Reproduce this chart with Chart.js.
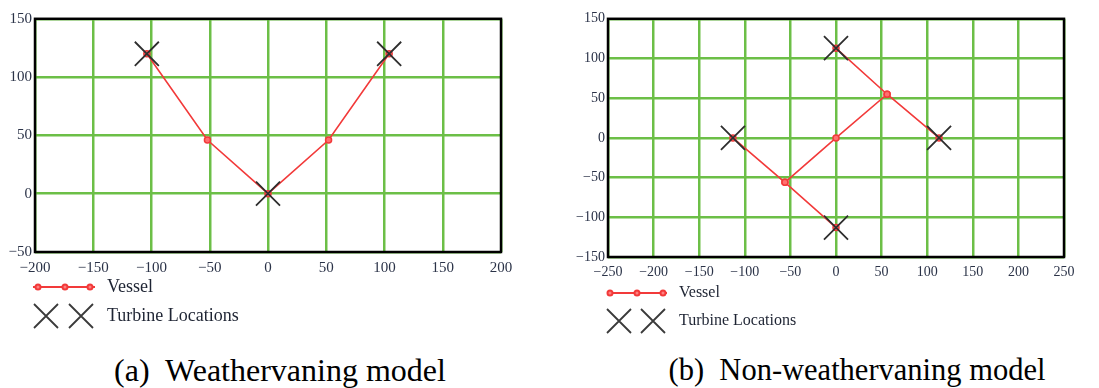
<!DOCTYPE html>
<html>
<head>
<meta charset="utf-8">
<script src="https://cdn.jsdelivr.net/npm/chart.js@4.4.0/dist/chart.umd.min.js"></script>
<style>
  body { margin: 0; background: #fff; width: 1099px; height: 388px; position: relative; overflow: hidden; }
  .box { position: absolute; top: 0; height: 340px; }
  .caption { position: absolute; top: 353px; font-family: 'Liberation Serif', serif; line-height: 34px; color: #000; white-space: pre; text-align: center; }
</style>
</head>
<body>
<div class="box" style="left:0;width:550px"><canvas id="chartA"></canvas></div>
<div class="box" style="left:560px;width:539px"><canvas id="chartB"></canvas></div>
<div class="caption" style="left:80px;width:400px;font-size:32px">(a)  Weathervaning model</div>
<div class="caption" style="left:657px;width:400px;font-size:30.5px">(b)  Non-weathervaning model</div>
<script>
// (a) weathervaning
const xTicksA = [-200, -150, -100, -50, 0, 50, 100, 150, 200];
const yTicksA = [-50, 0, 50, 100, 150];
const vesselAx = [-104, -52, 0, 52, 104];
const vesselAy = [120, 46, 0, 46, 120];
const turbineAx = [-104, 0, 104];
const turbineAy = [120, 0, 120];

// (b) non-weathervaning
const xTicksB = [-250, -200, -150, -100, -50, 0, 50, 100, 150, 200, 250];
const yTicksB = [-150, -100, -50, 0, 50, 100, 150];
const vesselBx = [0, 56, 113, 56, 0, -56, -113, -56, 0];
const vesselBy = [113, 55, 0, 55, 0, -56, 0, -56, -113];
const turbineBx = [0, -113, 113, 0];
const turbineBy = [113, 0, 0, -113];

const RED = '#f23a3a';
const GREEN = '#6cbf47';
const TICK_COLOR = '#2b3348';
const SERIF = "'Liberation Serif', serif";

const toPoints = (xs, ys) => xs.map((x, i) => ({ x: x, y: ys[i] }));

// black frame round the plot area
const framePlugin = {
  id: 'frame',
  beforeDatasetsDraw(chart) {
    const a = chart.chartArea;
    const ctx = chart.ctx;
    ctx.save();
    ctx.strokeStyle = '#000';
    ctx.lineWidth = 2.5;
    ctx.strokeRect(a.left, a.top, a.right - a.left, a.bottom - a.top);
    ctx.restore();
  }
};

// legend under the plot, drawn like the original
const legendPlugin = {
  id: 'legendBelow',
  afterDraw(chart, args, o) {
    const ctx = chart.ctx;
    const ds = chart.data.datasets;
    ctx.save();
    ctx.strokeStyle = RED;
    ctx.lineWidth = 2;
    ctx.beginPath();
    ctx.moveTo(o.lineX0, o.lineY);
    ctx.lineTo(o.lineX1, o.lineY);
    ctx.stroke();
    o.dotX.forEach(x => {
      ctx.beginPath();
      ctx.arc(x, o.lineY, 2.5, 0, Math.PI * 2);
      ctx.fillStyle = '#ff8080';
      ctx.fill();
      ctx.stroke();
    });
    ctx.strokeStyle = '#3a3a3a';
    ctx.lineWidth = 1.8;
    o.crossX.forEach(x => {
      const r = o.crossR;
      ctx.beginPath();
      ctx.moveTo(x - r, o.crossY - r);
      ctx.lineTo(x + r, o.crossY + r);
      ctx.moveTo(x - r, o.crossY + r);
      ctx.lineTo(x + r, o.crossY - r);
      ctx.stroke();
    });
    ctx.fillStyle = '#1e2433';
    ctx.font = o.fontSize + "px 'Liberation Serif', serif";
    ctx.textBaseline = 'middle';
    ctx.fillText(ds[1].label, o.textX, o.lineY);
    ctx.fillText(ds[0].label, o.textX, o.crossY);
    ctx.restore();
  }
};

function axes(xTicks, yTicks, yWidth, xHeight, fontSize) {
  const font = { family: SERIF, size: fontSize };
  const grid = { color: GREEN, lineWidth: 2.5, drawTicks: false };
  const fmt = v => String(v).replace('-', '\u2212');
  return {
    x: {
      type: 'linear',
      min: xTicks[0],
      max: xTicks[xTicks.length - 1],
      afterBuildTicks: s => { s.ticks = xTicks.map(v => ({ value: v })); },
      afterFit: s => { s.height = xHeight; },
      grid: grid,
      border: { display: false },
      ticks: { font: font, color: TICK_COLOR, padding: 7, maxRotation: 0, autoSkip: false, callback: fmt }
    },
    y: {
      type: 'linear',
      min: yTicks[0],
      max: yTicks[yTicks.length - 1],
      afterBuildTicks: s => { s.ticks = yTicks.map(v => ({ value: v })); },
      afterFit: s => { s.width = yWidth; },
      grid: grid,
      border: { display: false },
      ticks: { font: font, color: TICK_COLOR, padding: 3, autoSkip: false, callback: fmt }
    }
  };
}

function datasets(vx, vy, tx, ty) {
  return [
    {
      label: 'Turbine Locations',
      data: toPoints(tx, ty),
      showLine: false,
      pointStyle: 'crossRot',
      pointRadius: 17,
      pointHoverRadius: 17,
      borderColor: '#2e2e2e',
      pointBorderWidth: 1.8,
      order: 0
    },
    {
      label: 'Vessel',
      data: toPoints(vx, vy),
      showLine: true,
      tension: 0,
      borderColor: RED,
      borderWidth: 1.6,
      pointStyle: 'circle',
      pointRadius: 3,
      pointBackgroundColor: '#ff7070',
      pointBorderColor: RED,
      pointBorderWidth: 1.5,
      order: 1
    }
  ];
}

function makeChart(id, data, scales, padding, legendOpts) {
  return new Chart(document.getElementById(id), {
    type: 'scatter',
    data: { datasets: data },
    options: {
      responsive: true,
      maintainAspectRatio: false,
      animation: false,
      layout: { padding: padding },
      plugins: {
        legend: { display: false },
        tooltip: { enabled: false },
        legendBelow: legendOpts
      },
      scales: scales
    },
    plugins: [framePlugin, legendPlugin]
  });
}

function drawAll() {
  makeChart('chartA',
    datasets(vesselAx, vesselAy, turbineAx, turbineAy),
    axes(xTicksA, yTicksA, 35, 30, 15),
    { left: 0, top: 15, right: 49, bottom: 58 },
    { lineX0: 33, lineX1: 95, lineY: 287, dotX: [38, 65, 90], crossX: [46, 81], crossY: 316, crossR: 12, textX: 107, fontSize: 18 }
  );
  makeChart('chartB',
    datasets(vesselBx, vesselBy, turbineBx, turbineBy),
    axes(xTicksB, yTicksB, 48, 30, 14),
    { left: 0, top: 15, right: 35, bottom: 53 },
    { lineX0: 47, lineX1: 107, lineY: 293, dotX: [50, 77, 103], crossX: [59, 93], crossY: 321, crossR: 12, textX: 119, fontSize: 16 }
  );
}

document.fonts.load("14px 'Liberation Serif'").then(drawAll, drawAll);
</script>
</body>
</html>
